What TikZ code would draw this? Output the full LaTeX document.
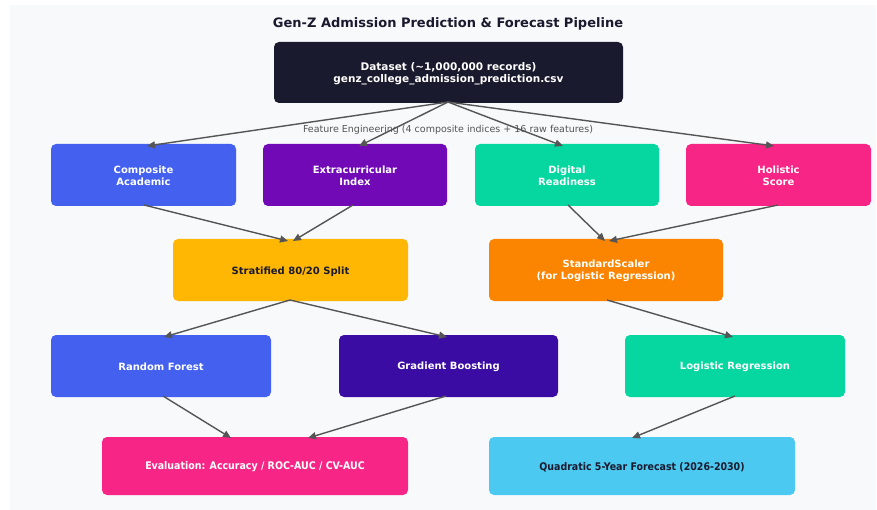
\documentclass[tikz,border=0pt]{standalone}
\usepackage{fontspec}
\setmainfont{DejaVu Sans}
\newfontfamily\condfont{DejaVu Sans Condensed}
\usetikzlibrary{arrows.meta}
\definecolor{panel}{HTML}{F8F9FB}
\definecolor{navy}{HTML}{1A1A2E}
\definecolor{cblue}{HTML}{4361EE}
\definecolor{cpurple}{HTML}{7209B7}
\definecolor{cgreen}{HTML}{06D6A0}
\definecolor{cpink}{HTML}{F72585}
\definecolor{camber}{HTML}{FFB703}
\definecolor{corange}{HTML}{FB8500}
\definecolor{cindigo}{HTML}{3A0CA3}
\definecolor{csky}{HTML}{4CC9F0}
\definecolor{darktxt}{HTML}{1A1A2E}
\definecolor{arr}{HTML}{555555}
\begin{document}
\begin{tikzpicture}[x=1pt,y=-1pt,
  box/.style={font=\bfseries\fontsize{10}{11.5}\selectfont,text=white,align=center,yshift=-1.5pt},
  cbox/.style={font=\condfont\bfseries\fontsize{10.5}{12}\selectfont,text=white,align=center,yshift=-1pt},
  flow/.style={draw=arr,line width=1.4pt,-{Triangle[length=8pt,width=7pt]}}]
\useasboundingbox (0,0) rectangle (877,510);
\fill[white] (0,0) rectangle (877,510);
\fill[panel] (10,5) rectangle (876,510);
\node[font=\bfseries\fontsize{13}{15}\selectfont,text=darktxt] (title) at (448,23.5) {Gen-Z Admission Prediction \& Forecast Pipeline};
% dataset
\fill[navy,rounded corners=5pt] (274,42) rectangle (623,103);
\node[box,font=\bfseries\fontsize{10.5}{12}\selectfont] (ds) at (448.5,72.5) {Dataset (\textasciitilde1,000,000 records)\\genz\_college\_admission\_prediction.csv};
\coordinate (dsb) at (448,102);
% row 2
\fill[cblue,rounded corners=5pt] (51,144) rectangle (236,206);
\node[box] (ca) at (143.5,174.5) {Composite\\Academic};
\fill[cpurple,rounded corners=5pt] (263,144) rectangle (447,206);
\node[box] (ei) at (355,174.5) {Extracurricular\\Index};
\fill[cgreen,rounded corners=5pt] (475,144) rectangle (659,206);
\node[box] (dr) at (567,174.5) {Digital\\Readiness};
\fill[cpink,rounded corners=5pt] (686,144) rectangle (871,206);
\node[box] (hs) at (778.5,174.5) {Holistic\\Score};
% row 3
\fill[camber,rounded corners=5pt] (173,239) rectangle (408,301);
\node[box,text=darktxt] (ss) at (290.5,270) {Stratified 80/20 Split};
\fill[corange,rounded corners=5pt] (489,239) rectangle (723,301);
\node[box] (sc) at (606,269.5) {StandardScaler\\(for Logistic Regression)};
% row 4
\fill[cblue,rounded corners=5pt] (51,335) rectangle (271,397);
\node[box] (rf) at (161,365.5) {Random Forest};
\fill[cindigo,rounded corners=5pt] (339,335) rectangle (558,397);
\node[box] (gb) at (448.5,365.5) {Gradient Boosting};
\fill[cgreen,rounded corners=5pt] (625,335) rectangle (845,397);
\node[box] (lr) at (735,365.5) {Logistic Regression};
% row 5
\fill[cpink,rounded corners=5pt] (102,437) rectangle (408,495);
\node[cbox] (ev) at (255,466) {Evaluation: Accuracy / ROC-AUC / CV-AUC};
\fill[csky,rounded corners=5pt] (489,437) rectangle (795,495);
\node[cbox,text=darktxt] (qf) at (642,466) {Quadratic 5-Year Forecast (2026-2030)};
% connectors
\coordinate (caT) at (147,146); \coordinate (eiT) at (359,146);
\coordinate (drT) at (563,146); \coordinate (hsT) at (774,146);
\draw[flow] (dsb) -- (caT);
\draw[flow] (dsb) -- (eiT);
\draw[flow] (dsb) -- (drT);
\draw[flow] (dsb) -- (hsT);
\node[font=\fontsize{9.5}{11}\selectfont,text=arr] (fe) at (448,130) {Feature Engineering (4 composite indices + 16 raw features)};
\coordinate (caB) at (144,205); \coordinate (eiB) at (353,205);
\coordinate (drB) at (568,205); \coordinate (hsB) at (778,205);
\coordinate (ssT1) at (288,241); \coordinate (ssT2) at (293,241);
\coordinate (scT1) at (605,241); \coordinate (scT2) at (609,241);
\draw[flow] (caB) -- (ssT1);
\draw[flow] (eiB) -- (ssT2);
\draw[flow] (drB) -- (scT1);
\draw[flow] (hsB) -- (scT2);
\coordinate (ssB) at (290,300); \coordinate (scB) at (607,300);
\coordinate (rfT) at (164,337); \coordinate (gbT) at (447,337); \coordinate (lrT) at (733,337);
\draw[flow] (ssB) -- (rfT);
\draw[flow] (ssB) -- (gbT);
\draw[flow] (scB) -- (lrT);
\coordinate (rfB) at (163,396); \coordinate (gbB) at (446,396); \coordinate (lrB) at (735,396);
\coordinate (evT1) at (231,438); \coordinate (evT2) at (308,438); \coordinate (qfT) at (632,438);
\draw[flow] (rfB) -- (evT1);
\draw[flow] (gbB) -- (evT2);
\draw[flow] (lrB) -- (qfT);
\end{tikzpicture}
\end{document}
